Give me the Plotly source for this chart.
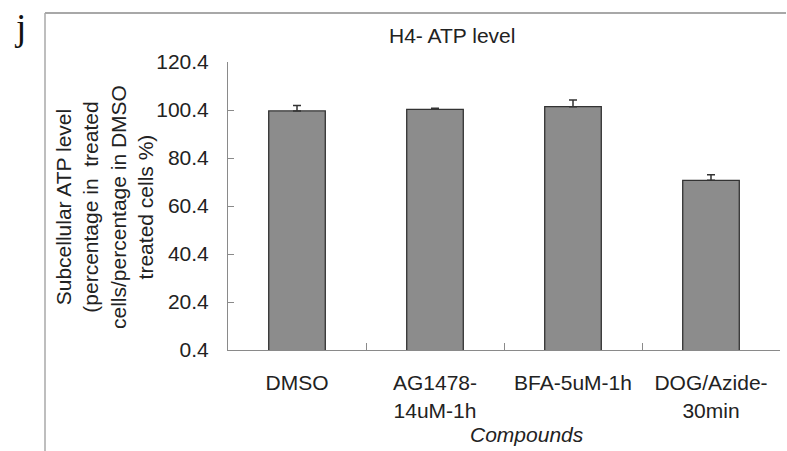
import plotly.graph_objects as go

categories = ["DMSO", "AG1478-<br>14uM-1h", "BFA-5uM-1h", "DOG/Azide-<br>30min"]
values = [100.0, 100.7, 101.8, 71.1]
errors = [2.3, 0.4, 2.8, 2.3]
y_ticks = [0.4, 20.4, 40.4, 60.4, 80.4, 100.4, 120.4]
y_tick_text = ["0.4", "20.4", "40.4", "60.4", "80.4", "100.4", "120.4"]

W, H = 787, 451
L, R, T, B = 228, 780, 62, 350  # plot area in pixels


def px(x):
    return (x - L) / (R - L)


def py(y):
    return (B - y) / (B - T)


FONT = "Liberation Sans, Arial, sans-serif"

fig = go.Figure()
fig.add_trace(go.Bar(
    x=categories,
    y=values,
    marker=dict(color="#8c8c8c", line=dict(color="#333333", width=1.3)),
    error_y=dict(type="data", array=errors, arrayminus=[0] * len(errors),
                 symmetric=False, color="#333333", thickness=1.5, width=4),
    showlegend=False,
    hoverinfo="skip",
))

fig.update_layout(
    width=W, height=H,
    margin=dict(l=L, r=W - R, t=T, b=H - B),
    paper_bgcolor="white", plot_bgcolor="white",
    bargap=0.59,
    font=dict(family=FONT, size=21, color="#222222"),
    xaxis=dict(
        showline=True, linecolor="#8a8a8a", linewidth=1,
        ticks="inside", tickson="boundaries", ticklen=7, tickcolor="#8a8a8a",
        showgrid=False, ticklabelstandoff=14,
        tickfont=dict(size=21, color="#222222"),
    ),
    yaxis=dict(
        range=[0.4, 120.4], tickvals=y_ticks, ticktext=y_tick_text,
        showline=True, linecolor="#8a8a8a", linewidth=1,
        ticks="inside", ticklen=6, tickcolor="#8a8a8a",
        showgrid=False, zeroline=False, ticklabelstandoff=14,
        tickfont=dict(size=21, color="#222222"),
    ),
)

annotations = [
    dict(text="H4- ATP level", x=px(452), y=py(35), font=dict(size=21)),
    dict(text="<i>Compounds</i>", x=px(527), y=py(434), font=dict(size=21)),
    dict(text="j", x=px(20), y=py(27), font=dict(family="Liberation Serif, Times New Roman, serif", size=37, color="#111111")),
    dict(text="Subcellular ATP level<br>(percentage in  treated<br>cells/percentage in DMSO<br>treated cells %)",
         x=px(104), y=py(207), textangle=-90, align="center", font=dict(size=21)),
]
for a in annotations:
    fig.add_annotation(xref="paper", yref="paper", showarrow=False,
                       xanchor="center", yanchor="middle", **a)

# outer frame lines (left and top)
fig.add_shape(type="line", xref="paper", yref="paper",
              x0=px(45), x1=px(786), y0=py(13), y1=py(13),
              line=dict(color="#a8a8a8", width=2), layer="above")
fig.add_shape(type="line", xref="paper", yref="paper",
              x0=px(45), x1=px(45), y0=py(13), y1=py(451),
              line=dict(color="#a8a8a8", width=1.5), layer="above")

fig.write_html("out.html",
               config={"displayModeBar": False},
               post_script="document.body.style.margin='0';document.body.style.padding='0';")
